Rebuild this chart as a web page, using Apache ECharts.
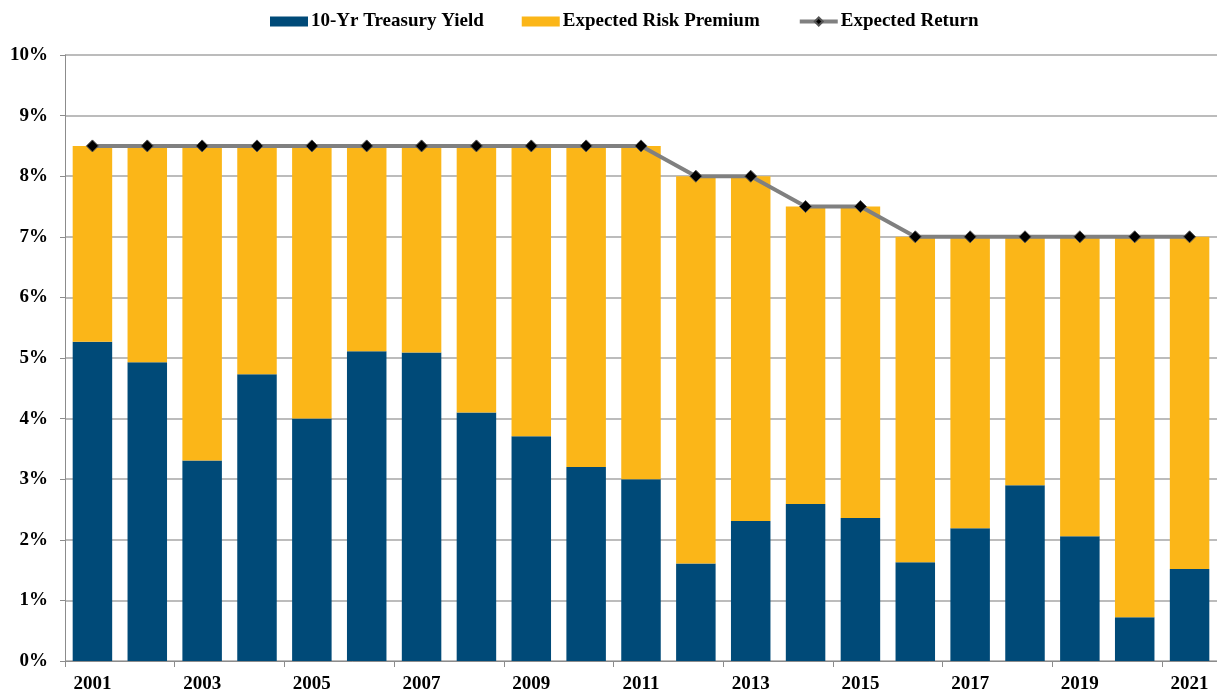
<!DOCTYPE html>
<html>
<head>
<meta charset="utf-8">
<script src="https://cdn.jsdelivr.net/npm/echarts@6/dist/echarts.min.js"></script>
<style>
  html, body { margin: 0; padding: 0; background: #fff; }
  #chart { width: 1217px; height: 694px; }
</style>
</head>
<body>
<div id="chart"></div>
<script>
// data
var years = ["2001", "2002", "2003", "2004", "2005", "2006", "2007", "2008", "2009", "2010", "2011",
  "2012", "2013", "2014", "2015", "2016", "2017", "2018", "2019", "2020", "2021"];
var treasuryYield = [5.27, 4.93, 3.31, 4.73, 4.00, 5.11, 5.09, 4.10, 3.71, 3.20, 3.00,
  1.61, 2.31, 2.59, 2.36, 1.63, 2.19, 2.90, 2.06, 0.72, 1.52];
var expectedReturn = [8.5, 8.5, 8.5, 8.5, 8.5, 8.5, 8.5, 8.5, 8.5, 8.5, 8.5,
  8.0, 8.0, 7.5, 7.5, 7.0, 7.0, 7.0, 7.0, 7.0, 7.0];
var yTicks = [0, 1, 2, 3, 4, 5, 6, 7, 8, 9, 10];

// premium is the gap between return and yield
var riskPremium = expectedReturn.map(function (r, i) {
  return +(r - treasuryYield[i]).toFixed(2);
});

var font = "Liberation Serif";
var chart = echarts.init(document.getElementById("chart"));
chart.setOption({
  animation: false,
  textStyle: { fontFamily: font },
  legend: {
    top: 7,
    left: 265,
    itemGap: 38,
    itemWidth: 38,
    itemHeight: 10,
    textStyle: { fontFamily: font, fontWeight: "bold", fontSize: 19, color: "#000", padding: [0, 0, 0, -2] },
    data: [
      { name: "10-Yr Treasury Yield", icon: "rect" },
      { name: "Expected Risk Premium", icon: "rect" },
      {
        name: "Expected Return",
        lineStyle: { width: 4, color: "#808080" },
        itemStyle: { color: "#000" }
      }
    ]
  },
  // the plot runs a little past the right edge of the picture
  grid: { left: 65, right: -8, top: 55, bottom: 32 },
  xAxis: {
    type: "category",
    data: years,
    axisLine: { lineStyle: { color: "#8c8c8c", width: 1 } },
    axisTick: { show: true, length: 6, lineStyle: { color: "#8c8c8c" } },
    axisLabel: {
      interval: 1,
      margin: 14,
      fontFamily: font,
      fontWeight: "bold",
      fontSize: 19,
      color: "#000"
    }
  },
  yAxis: {
    type: "value",
    min: yTicks[0],
    max: yTicks[yTicks.length - 1],
    interval: 1,
    axisLine: { show: true, lineStyle: { color: "#8c8c8c", width: 1 } },
    axisTick: { show: true, length: 5, lineStyle: { color: "#8c8c8c" } },
    splitLine: { lineStyle: { color: "#a6a6a6", width: 1.5 } },
    axisLabel: {
      margin: 17,
      fontFamily: font,
      fontWeight: "bold",
      fontSize: 19,
      color: "#000",
      formatter: "{value}%"
    }
  },
  series: [
    {
      name: "10-Yr Treasury Yield",
      type: "bar",
      stack: "total",
      barWidth: "72%",
      itemStyle: { color: "#004a78" },
      data: treasuryYield
    },
    {
      name: "Expected Risk Premium",
      type: "bar",
      stack: "total",
      barWidth: "72%",
      itemStyle: { color: "#fbb618" },
      data: riskPremium
    },
    {
      name: "Expected Return",
      type: "line",
      symbol: "diamond",
      symbolSize: 12,
      itemStyle: { color: "#000", borderColor: "#555", borderWidth: 1 },
      lineStyle: { color: "#808080", width: 4 },
      data: expectedReturn,
      z: 5
    }
  ]
});
</script>
</body>
</html>
